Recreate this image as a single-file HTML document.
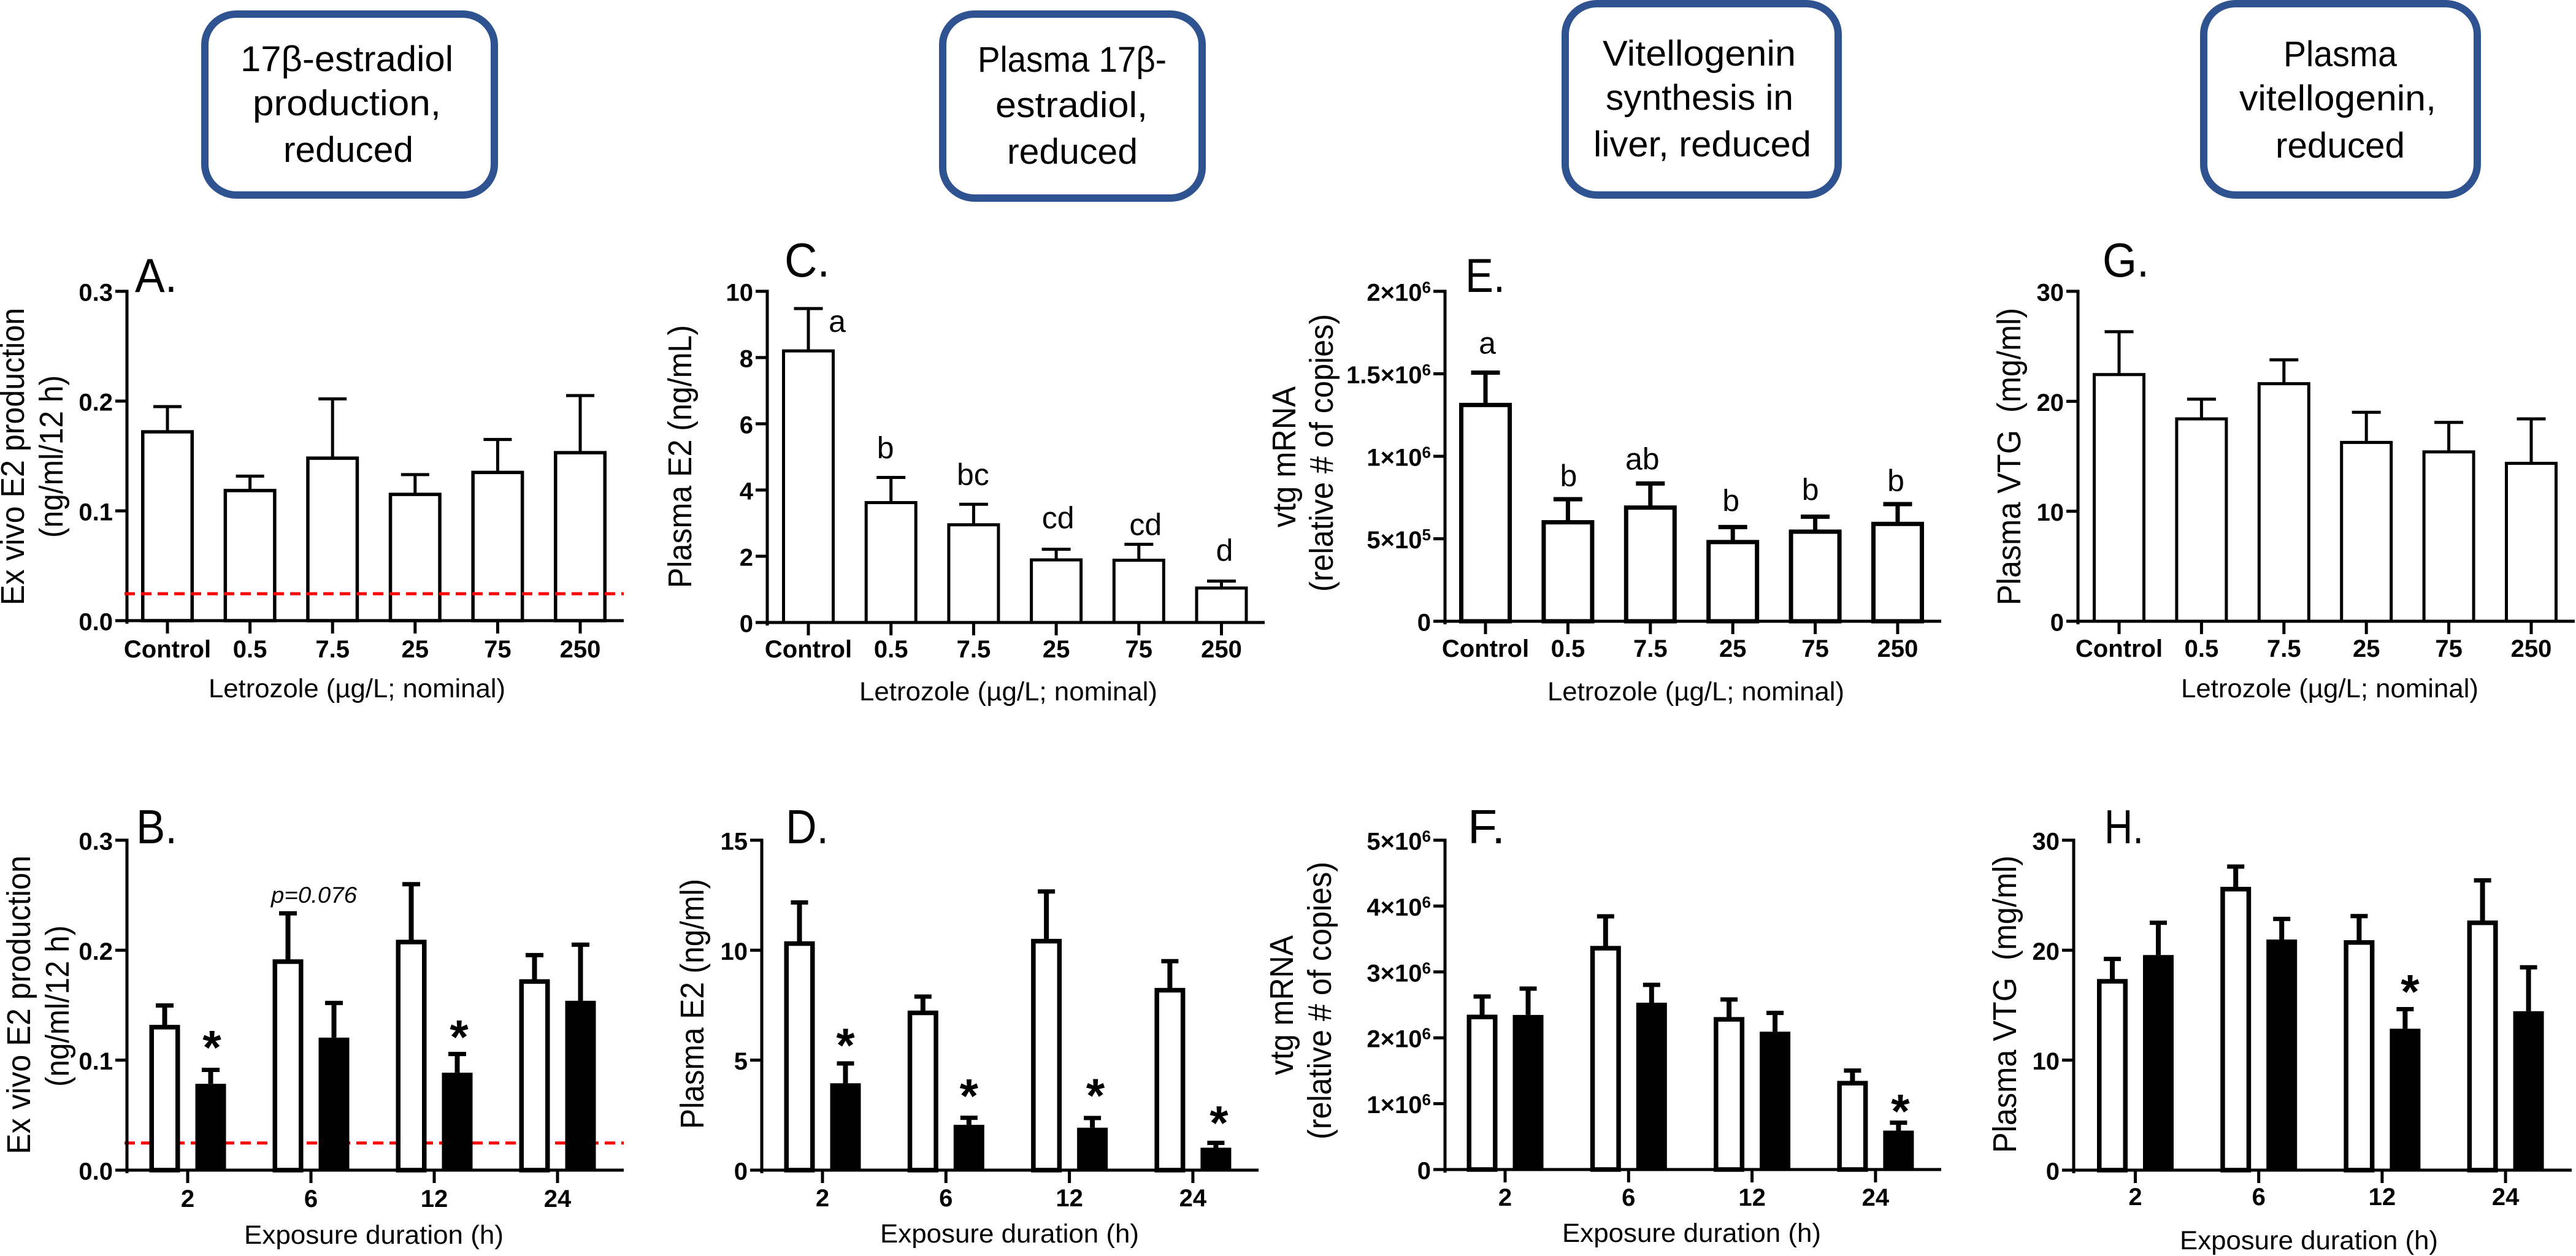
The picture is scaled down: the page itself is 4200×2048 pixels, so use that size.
<!DOCTYPE html>
<html lang="en">
<head>
<meta charset="utf-8">
<title>Letrozole effects on estradiol and vitellogenin</title>
<style>
html,body{margin:0;padding:0;background:#fff;}
svg{display:block;font-family:"Liberation Sans",Arial,sans-serif;}
.box{fill:#fff;stroke:#2f5290;stroke-width:12;}
.box-text{font-size:58px;fill:#000;}
.ytitle{font-size:54px;fill:#000;}
.xtitle{font-size:43px;fill:#000;}
.plabel{font-size:78px;fill:#000;}
</style>
</head>
<body>
<svg id="figure" xmlns="http://www.w3.org/2000/svg" width="4200" height="2048" viewBox="0 0 4200 2048">
<rect x="0" y="0" width="4200" height="2048" fill="#fff"/>

<g>
<rect class="box" x="334" y="23" width="472" height="295" rx="52" ry="50"/>
<text class="box-text" x="392" y="116" textLength="347" lengthAdjust="spacingAndGlyphs">17β-estradiol</text>
<text class="box-text" x="412" y="188" textLength="307" lengthAdjust="spacingAndGlyphs">production,</text>
<text class="box-text" x="462" y="264" textLength="212" lengthAdjust="spacingAndGlyphs">reduced</text>
</g>
<g>
<rect class="box" x="1537" y="23" width="423" height="300" rx="52" ry="50"/>
<text class="box-text" x="1594" y="117" textLength="308" lengthAdjust="spacingAndGlyphs">Plasma 17β-</text>
<text class="box-text" x="1623" y="191" textLength="248" lengthAdjust="spacingAndGlyphs">estradiol,</text>
<text class="box-text" x="1642" y="267" textLength="213" lengthAdjust="spacingAndGlyphs">reduced</text>
</g>
<g>
<rect class="box" x="2552" y="6" width="445" height="312" rx="52" ry="50"/>
<text class="box-text" x="2613" y="107" textLength="315" lengthAdjust="spacingAndGlyphs">Vitellogenin</text>
<text class="box-text" x="2618" y="179" textLength="306" lengthAdjust="spacingAndGlyphs">synthesis in</text>
<text class="box-text" x="2598" y="255" textLength="355" lengthAdjust="spacingAndGlyphs">liver, reduced</text>
</g>
<g>
<rect class="box" x="3593" y="6" width="446" height="312" rx="52" ry="50"/>
<text class="box-text" x="3723" y="108" textLength="185" lengthAdjust="spacingAndGlyphs">Plasma</text>
<text class="box-text" x="3651" y="180" textLength="321" lengthAdjust="spacingAndGlyphs">vitellogenin,</text>
<text class="box-text" x="3710" y="257" textLength="211" lengthAdjust="spacingAndGlyphs">reduced</text>
</g>

<g id="panel-a">
<text class="plabel" x="220" y="476" textLength="69" lengthAdjust="spacingAndGlyphs">A.</text>
<text class="ytitle" transform="translate(39,987) rotate(-90)" textLength="485" lengthAdjust="spacingAndGlyphs">Ex vivo E2 production</text>
<text class="ytitle" transform="translate(102,877) rotate(-90)" textLength="265" lengthAdjust="spacingAndGlyphs">(ng/ml/12 h)</text>
<text class="xtitle" x="340" y="1137" textLength="484" lengthAdjust="spacingAndGlyphs">Letrozole (µg/L; nominal)</text>
</g>
<g id="panel-b">
<text class="plabel" x="222" y="1375" textLength="67" lengthAdjust="spacingAndGlyphs">B.</text>
<text class="ytitle" transform="translate(49,1882) rotate(-90)" textLength="487" lengthAdjust="spacingAndGlyphs">Ex vivo E2 production</text>
<text class="ytitle" transform="translate(112,1772) rotate(-90)" textLength="263" lengthAdjust="spacingAndGlyphs">(ng/ml/12 h)</text>
<text class="xtitle" x="398" y="2028" textLength="423" lengthAdjust="spacingAndGlyphs">Exposure duration (h)</text>
<text x="442" y="1472" font-size="37" font-style="italic" textLength="140" lengthAdjust="spacingAndGlyphs">p=0.076</text>
</g>
<g id="panel-c">
<text class="plabel" x="1279" y="451" textLength="74" lengthAdjust="spacingAndGlyphs">C.</text>
<text class="ytitle" transform="translate(1127,959) rotate(-90)" textLength="429" lengthAdjust="spacingAndGlyphs">Plasma E2 (ng/mL)</text>
<text class="xtitle" x="1401" y="1142" textLength="486" lengthAdjust="spacingAndGlyphs">Letrozole (µg/L; nominal)</text>
</g>
<g id="panel-d">
<text class="plabel" x="1281" y="1375" textLength="70" lengthAdjust="spacingAndGlyphs">D.</text>
<text class="ytitle" transform="translate(1147,1841) rotate(-90)" textLength="408" lengthAdjust="spacingAndGlyphs">Plasma E2 (ng/ml)</text>
<text class="xtitle" x="1435" y="2026" textLength="422" lengthAdjust="spacingAndGlyphs">Exposure duration (h)</text>
</g>
<g id="panel-e">
<text class="plabel" x="2389" y="476" textLength="65" lengthAdjust="spacingAndGlyphs">E.</text>
<text class="ytitle" transform="translate(2112,860) rotate(-90)" textLength="230" lengthAdjust="spacingAndGlyphs">vtg mRNA</text>
<text class="ytitle" transform="translate(2173,965) rotate(-90)" textLength="453" lengthAdjust="spacingAndGlyphs">(relative # of copies)</text>
<text class="xtitle" x="2523" y="1142" textLength="484" lengthAdjust="spacingAndGlyphs">Letrozole (µg/L; nominal)</text>
</g>
<g id="panel-f">
<text class="plabel" x="2393" y="1375" textLength="61" lengthAdjust="spacingAndGlyphs">F.</text>
<text class="ytitle" transform="translate(2108,1753) rotate(-90)" textLength="228" lengthAdjust="spacingAndGlyphs">vtg mRNA</text>
<text class="ytitle" transform="translate(2170,1858) rotate(-90)" textLength="453" lengthAdjust="spacingAndGlyphs">(relative # of copies)</text>
<text class="xtitle" x="2547" y="2025" textLength="422" lengthAdjust="spacingAndGlyphs">Exposure duration (h)</text>
</g>
<g id="panel-g">
<text class="plabel" x="3428" y="451" textLength="76" lengthAdjust="spacingAndGlyphs">G.</text>
<text class="ytitle" transform="translate(3294,987) rotate(-90)" textLength="485" lengthAdjust="spacingAndGlyphs" xml:space="preserve">Plasma VTG  (mg/ml)</text>
<text class="xtitle" x="3556" y="1137" textLength="485" lengthAdjust="spacingAndGlyphs">Letrozole (µg/L; nominal)</text>
</g>
<g id="panel-h">
<text class="plabel" x="3431" y="1375" textLength="64" lengthAdjust="spacingAndGlyphs">H.</text>
<text class="ytitle" transform="translate(3287,1880) rotate(-90)" textLength="485" lengthAdjust="spacingAndGlyphs" xml:space="preserve">Plasma VTG  (mg/ml)</text>
<text class="xtitle" x="3554" y="2037" textLength="421" lengthAdjust="spacingAndGlyphs">Exposure duration (h)</text>
</g>
</svg>

<script>
// ---- Shared categories ----
const doseCategories = ['Control', '0.5', '7.5', '25', '75', '250'];
const durationCategories = ['2', '6', '12', '24'];

// ---- Panel A ----
const panelAValues = [0.172, 0.1185, 0.148, 0.115, 0.135, 0.153];
const panelAErrorTops = [0.195, 0.1316, 0.202, 0.133, 0.165, 0.205];
const panelATicks = [0, 0.1, 0.2, 0.3];
const panelATickLabels = ['0.0', '0.1', '0.2', '0.3'];
const panelADetectionLimit = 0.0245;

// ---- Panel B ----
const panelBControlValues = [0.130, 0.1896, 0.2074, 0.1715];
const panelBControlErrorTops = [0.1497, 0.2335, 0.26, 0.1955];
const panelBExposedValues = [0.0785, 0.1205, 0.0886, 0.154];
const panelBExposedErrorTops = [0.0912, 0.152, 0.1056, 0.205];
const panelBTicks = [0, 0.1, 0.2, 0.3];
const panelBTickLabels = ['0.0', '0.1', '0.2', '0.3'];
const panelBDetectionLimit = 0.0247;
const panelBSignificant = [true, false, true, false];

// ---- Panel C ----
const panelCValues = [8.2, 3.62, 2.95, 1.89, 1.88, 1.04];
const panelCErrorTops = [9.48, 4.38, 3.57, 2.21, 2.36, 1.25];
const panelCTicks = [0, 2, 4, 6, 8, 10];
const panelCTickLabels = ['0', '2', '4', '6', '8', '10'];
const panelCLetters = ['a', 'b', 'bc', 'cd', 'cd', 'd'];

// ---- Panel D ----
const panelDControlValues = [10.3, 7.15, 10.41, 8.18];
const panelDControlErrorTops = [12.17, 7.89, 12.67, 9.5];
const panelDExposedValues = [3.95, 2.06, 1.93, 1.02];
const panelDExposedErrorTops = [4.85, 2.38, 2.37, 1.24];
const panelDTicks = [0, 5, 10, 15];
const panelDTickLabels = ['0', '5', '10', '15'];
const panelDSignificant = [true, true, true, true];

// ---- Panel E ----
const panelEValues = [1311000, 600000, 689000, 480000, 543000, 590000];
const panelEErrorTops = [1507000, 740000, 835000, 571000, 634000, 710000];
const panelETicks = [0, 500000, 1000000, 1500000, 2000000];
const panelETickLabels = ['0', '5×10^5', '1×10^6', '1.5×10^6', '2×10^6'];
const panelELetters = ['a', 'b', 'ab', 'b', 'b', 'b'];

// ---- Panel F ----
const panelFControlValues = [2316000, 3360000, 2280000, 1311000];
const panelFControlErrorTops = [2627000, 3844000, 2582000, 1502000];
const panelFExposedValues = [2347000, 2533000, 2093000, 591000];
const panelFExposedErrorTops = [2747000, 2804000, 2378000, 711000];
const panelFTicks = [0, 1000000, 2000000, 3000000, 4000000, 5000000];
const panelFTickLabels = ['0', '1×10^6', '2×10^6', '3×10^6', '4×10^6', '5×10^6'];
const panelFSignificant = [false, false, false, true];

// ---- Panel G ----
const panelGValues = [22.43, 18.4, 21.6, 16.26, 15.4, 14.36];
const panelGErrorTops = [26.33, 20.19, 23.77, 19.0, 18.08, 18.4];
const panelGTicks = [0, 10, 20, 30];
const panelGTickLabels = ['0', '10', '20', '30'];

// ---- Panel H ----
const panelHControlValues = [17.17, 25.55, 20.7, 22.49];
const panelHControlErrorTops = [19.2, 27.6, 23.1, 26.35];
const panelHExposedValues = [19.56, 20.97, 12.86, 14.45];
const panelHExposedErrorTops = [22.49, 22.84, 14.64, 18.44];
const panelHTicks = [0, 10, 20, 30];
const panelHTickLabels = ['0', '10', '20', '30'];
const panelHSignificant = [false, false, true, false];

const SVG_NS = 'http://www.w3.org/2000/svg';

function shape(parent, tag, props) {
  const el = document.createElementNS(SVG_NS, tag);
  for (const k in props) el.setAttribute(k, props[k]);
  parent.appendChild(el);
  return el;
}

function hline(parent, x1, x2, y, w, color) {
  return shape(parent, 'line', { x1: x1, x2: x2, y1: y, y2: y, stroke: color || '#000', 'stroke-width': w });
}

function vline(parent, x, y1, y2, w) {
  return shape(parent, 'line', { x1: x, x2: x, y1: y1, y2: y2, stroke: '#000', 'stroke-width': w });
}

function drawAxes(g, L, yOf, ticks, tickLabels, categories, xOf) {
  const yAxis = vline(g, L.axisX, L.yTop - 2.5, L.yBase + 5, 5);
  
  
  const xAxis = hline(g, L.axisX - 19, L.xEnd, L.yBase, 5);
  
  

  ticks.forEach(function (t, i) {
    const y = yOf(t);
    const tick = hline(g, L.axisX - 19, L.axisX, y, 5);
    
    
    const label = shape(g, 'text', { x: L.axisX - 23, y: y + 15.5, 'text-anchor': 'end', 'font-size': 40, 'font-weight': 'bold' });
    
    
    const parts = tickLabels[i].split('^');
    const base = document.createElementNS(SVG_NS, 'tspan');
    base.textContent = parts[0];
    label.appendChild(base);
    if (parts[1]) {
      const sup = document.createElementNS(SVG_NS, 'tspan');
      sup.setAttribute('dy', '-13');
      sup.setAttribute('font-size', '26');
      sup.textContent = parts[1];
      label.appendChild(sup);
    }
  });

  categories.forEach(function (c, i) {
    const x = xOf(i);
    const tick = vline(g, x, L.yBase, L.yBase + 21, 5);
    
    
    const label = shape(g, 'text', { x: x, y: L.tickLabelY, 'text-anchor': 'middle', 'font-size': 40, 'font-weight': 'bold' });
    
    
    label.textContent = c;
  });
}

function drawDetectionLimit(g, L, yOf, limit) {
  const line = hline(g, L.axisX - 4, L.xEnd, yOf(limit), 5, '#ff0000');
  line.setAttribute('stroke-dasharray', '17 10');
  
  
}

function drawOpenBar(g, L, x, value, errTop, yOf) {
  const yTopBar = yOf(value);
  const yErr = yOf(errTop);
  const stem = vline(g, x, yErr, yTopBar, L.stem);
  
  
  const cap = hline(g, x - L.capW / 2, x + L.capW / 2, yErr, L.capH);
  
  
  const bar = shape(g, 'rect', {
    x: x - L.barW / 2 + L.barStroke / 2, y: yTopBar,
    width: L.barW - L.barStroke, height: L.yBase - yTopBar,
    fill: '#fff', stroke: '#000', 'stroke-width': L.barStroke
  });
  
  
}

function drawSolidBar(g, L, x, value, errTop, yOf) {
  const yTopBar = yOf(value);
  const yErr = yOf(errTop);
  const stem = vline(g, x, yErr, yTopBar, L.stem);
  
  
  const cap = hline(g, x - L.capW / 2, x + L.capW / 2, yErr, L.capH);
  
  
  const bar = shape(g, 'rect', {
    x: x - L.barW / 2, y: yTopBar, width: L.barW, height: L.yBase - yTopBar, fill: '#000'
  });
  
  
}

function drawDosePanel(id, L, values, errTops, ticks, tickLabels, letters, limit) {
  const g = document.getElementById(id);
  const yMax = ticks[ticks.length - 1];
  const yOf = function (v) { return L.yBase - v / yMax * (L.yBase - L.yTop); };
  const xOf = function (i) { return L.firstX + i * L.step; };
  values.forEach(function (v, i) { drawOpenBar(g, L, xOf(i), v, errTops[i], yOf); });
  if (letters) {
    letters.forEach(function (s, i) {
      const t = shape(g, 'text', { x: xOf(i) + L.letterDx[i], y: yOf(errTops[i]) + L.letterDy[i], 'text-anchor': 'middle', 'font-size': 50 });
      
      
      t.textContent = s;
    });
  }
  drawAxes(g, L, yOf, ticks, tickLabels, doseCategories, xOf);
  if (limit !== undefined) drawDetectionLimit(g, L, yOf, limit);
}

function drawDurationPanel(id, L, ctrl, ctrlErr, exp, expErr, ticks, tickLabels, significant, limit) {
  const g = document.getElementById(id);
  const yMax = ticks[ticks.length - 1];
  const yOf = function (v) { return L.yBase - v / yMax * (L.yBase - L.yTop); };
  const xOf = function (i) { return L.firstX + i * L.step; };
  if (limit !== undefined) drawDetectionLimit(g, L, yOf, limit);
  ctrl.forEach(function (v, i) {
    drawOpenBar(g, L, xOf(i) - 37.5, v, ctrlErr[i], yOf);
    drawSolidBar(g, L, xOf(i) + 37.5, exp[i], expErr[i], yOf);
    if (significant[i]) {
      const fs = 78;
      const star = shape(g, 'text', {
        x: xOf(i) + 37.5 + L.starDx[i],
        y: yOf(expErr[i]) + L.starDy[i] + 0.5 * fs,
        'text-anchor': 'middle', 'font-size': fs, 'font-weight': 'bold'
      });
      
      
      star.textContent = '*';
    }
  });
  drawAxes(g, L, yOf, ticks, tickLabels, durationCategories, xOf);
}

drawDosePanel('panel-a',
  { axisX: 207, yTop: 475, yBase: 1012, xEnd: 1017, firstX: 273, step: 134.6, barW: 86, barStroke: 5.5, capW: 46, capH: 5, stem: 5, tickLabelY: 1072 },
  panelAValues, panelAErrorTops, panelATicks, panelATickLabels, null, panelADetectionLimit);

drawDurationPanel('panel-b',
  { axisX: 207, yTop: 1370, yBase: 1908, xEnd: 1017, firstX: 306, step: 201, barW: 50, barStroke: 7.5, capW: 29, capH: 7, stem: 8, tickLabelY: 1968,
    starDx: [2, 0, 3, 0], starDy: [-49, 0, -40, 0] },
  panelBControlValues, panelBControlErrorTops, panelBExposedValues, panelBExposedErrorTops, panelBTicks, panelBTickLabels, panelBSignificant, panelBDetectionLimit);

drawDosePanel('panel-c',
  { axisX: 1251, yTop: 475, yBase: 1015, xEnd: 2062, firstX: 1318, step: 134.7, barW: 86, barStroke: 5, capW: 47, capH: 5, stem: 5, tickLabelY: 1072,
    letterDx: [47, -9, -1, 3, 11, 5], letterDy: [38, -31, -31, -34, -15, -33] },
  panelCValues, panelCErrorTops, panelCTicks, panelCTickLabels, panelCLetters);

drawDurationPanel('panel-d',
  { axisX: 1242, yTop: 1370, yBase: 1908, xEnd: 2052, firstX: 1341, step: 201.3, barW: 50, barStroke: 7.5, capW: 28, capH: 7, stem: 8, tickLabelY: 1967,
    starDx: [0, 0, 5, 5], starDy: [-42, -48, -49, -45] },
  panelDControlValues, panelDControlErrorTops, panelDExposedValues, panelDExposedErrorTops, panelDTicks, panelDTickLabels, panelDSignificant);

drawDosePanel('panel-e',
  { axisX: 2356, yTop: 475, yBase: 1013, xEnd: 3165, firstX: 2422, step: 134.4, barW: 86, barStroke: 7, capW: 47, capH: 7, stem: 7, tickLabelY: 1071,
    letterDx: [3, 1, -13, -3, -8, -3], letterDy: [-31, -21, -23, -26, -27, -21] },
  panelEValues, panelEErrorTops, panelETicks, panelETickLabels, panelELetters);

drawDurationPanel('panel-f',
  { axisX: 2356, yTop: 1370, yBase: 1907, xEnd: 3165, firstX: 2454, step: 201.3, barW: 50, barStroke: 7.5, capW: 28, capH: 7, stem: 8, tickLabelY: 1966,
    starDx: [0, 0, 0, 3], starDy: [0, 0, 0, -31] },
  panelFControlValues, panelFControlErrorTops, panelFExposedValues, panelFExposedErrorTops, panelFTicks, panelFTickLabels, panelFSignificant);

drawDosePanel('panel-g',
  { axisX: 3388, yTop: 475, yBase: 1013, xEnd: 4198, firstX: 3455, step: 134.4, barW: 86, barStroke: 5, capW: 47, capH: 5, stem: 5, tickLabelY: 1071 },
  panelGValues, panelGErrorTops, panelGTicks, panelGTickLabels, null);

drawDurationPanel('panel-h',
  { axisX: 3381, yTop: 1370, yBase: 1908, xEnd: 4193, firstX: 3481.5, step: 201.2, barW: 50, barStroke: 7.5, capW: 28, capH: 7, stem: 8, tickLabelY: 1965,
    starDx: [0, 0, 8, 0], starDy: [0, 0, -41, 0] },
  panelHControlValues, panelHControlErrorTops, panelHExposedValues, panelHExposedErrorTops, panelHTicks, panelHTickLabels, panelHSignificant);
</script>
</body>
</html>
